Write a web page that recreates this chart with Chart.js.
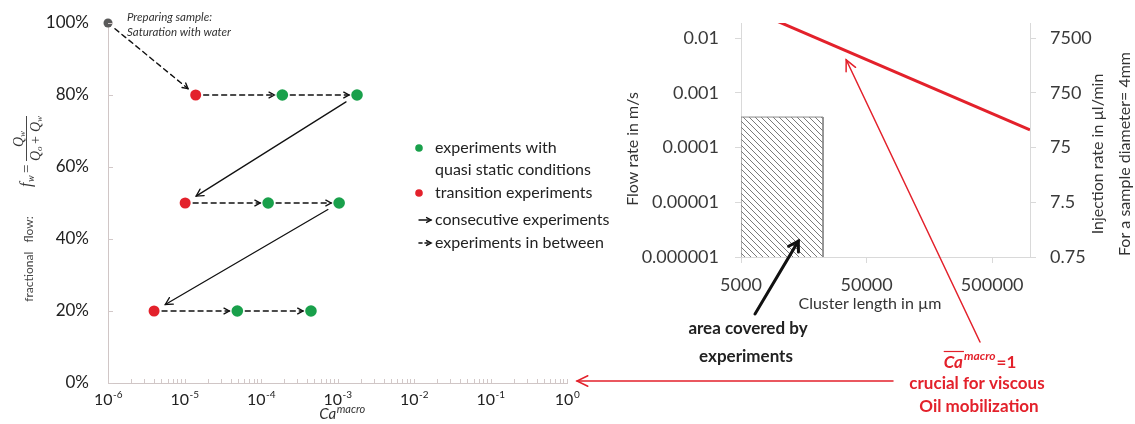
<!DOCTYPE html>
<html>
<head>
<meta charset="utf-8">
<script src="https://cdn.jsdelivr.net/npm/chart.js@4.4.1/dist/chart.umd.min.js"></script>
<style>
  body { margin: 0; background: #fff; }
  #wrap { position: relative; width: 1135px; height: 424px; }
  #left { position: absolute; left: 0; top: 0; }
  #right { position: absolute; left: 620px; top: 0; }
  #over { position: absolute; left: 0; top: 0; pointer-events: none; }
</style>
</head>
<body>
<div id="wrap">
  <canvas id="left" width="620" height="424"></canvas>
  <canvas id="right" width="515" height="424"></canvas>
  <canvas id="over" width="1135" height="424"></canvas>
</div>
<script>
// left panel: sequence of experiments (Ca macro vs fractional flow in %)
const expCa = [1e-6, 1.4e-5, 1.9e-4, 1.8e-3, 1.02e-5, 1.24e-4, 1.05e-3, 4.0e-6, 4.9e-5, 4.5e-4];
const expFw = [100, 80, 80, 80, 50, 50, 50, 20, 20, 20];
const expKind = ['prep', 'transition', 'quasi', 'quasi', 'transition', 'quasi', 'quasi', 'transition', 'quasi', 'quasi'];
// link from experiment i to i+1
const expLink = ['dashed', 'dashed', 'dashed', 'solid', 'dashed', 'dashed', 'solid', 'dashed', 'dashed'];
const caDecades = [-6, -5, -4, -3, -2, -1, 0];
const fwTicks = [0, 20, 40, 60, 80, 100];

// right panel: flow rate vs cluster length
const clusterLen = [5000, 1000000];
const flowCa1 = [0.039, 0.00021];
const coveredLen = [5000, 22500];
const coveredFlowTop = 0.00036;
const flowMin = 0.000001, flowMax = 0.0188;
const injPerFlow = 750000;
const flowTicks = [0.000001, 0.00001, 0.0001, 0.001, 0.01];
const flowTickLabels = ['0.000001', '0.00001', '0.0001', '0.001', '0.01'];
const injTicks = [0.75, 7.5, 75, 750, 7500];
const injTickLabels = ['0.75', '7.5', '75', '750', '7500'];
const lenTicks = [5000, 50000, 500000];
const lenTickLabels = ['5000', '50000', '500000'];

const RED = '#e3212b';
const GREEN = '#19a04b';

function arrow(ctx, x1, y1, x2, y2, o) {
  const a = Math.atan2(y2 - y1, x2 - x1);
  const h = o.head, s = o.spread || 0.5;
  ctx.save();
  ctx.strokeStyle = o.color;
  ctx.lineWidth = o.width;
  ctx.lineCap = 'round';
  ctx.setLineDash(o.dash || []);
  ctx.beginPath();
  ctx.moveTo(x1, y1);
  ctx.lineTo(x2, y2);
  ctx.stroke();
  ctx.setLineDash([]);
  ctx.beginPath();
  ctx.moveTo(x2 - h * Math.cos(a - s), y2 - h * Math.sin(a - s));
  ctx.lineTo(x2, y2);
  ctx.lineTo(x2 - h * Math.cos(a + s), y2 - h * Math.sin(a + s));
  ctx.stroke();
  ctx.restore();
}

function shortArrow(ctx, p, q, s1, s2, o) {
  const dx = q.x - p.x, dy = q.y - p.y, len = Math.hypot(dx, dy);
  const ux = dx / len, uy = dy / len;
  arrow(ctx, p.x + ux * s1, p.y + uy * s1, q.x - ux * s2, q.y - uy * s2, o);
}

function rotText(ctx, txt, x, y) {
  ctx.save();
  ctx.translate(x, y);
  ctx.rotate(-Math.PI / 2);
  ctx.fillText(txt, 0, 0);
  ctx.restore();
}

// fixed box size for a scale, no extra label padding
function fixBox(w, h) {
  return s => {
    if (w !== null) s.width = w;
    if (h !== null) s.height = h;
    s.paddingTop = 0; s.paddingBottom = 0; s.paddingLeft = 0; s.paddingRight = 0;
  };
}

const leftDecor = {
  id: 'leftDecor',
  afterDraw(chart) {
    const ctx = chart.ctx, xs = chart.scales.x, ys = chart.scales.y;
    ctx.save();
    // small inner tick marks
    ctx.strokeStyle = '#d2c8c8';
    ctx.lineWidth = 1;
    ctx.beginPath();
    caDecades.forEach(d => {
      for (let m = 1; m <= 9; m++) {
        const v = m * Math.pow(10, d);
        if (v > 1) break;
        const px = Math.round(xs.getPixelForValue(v)) + 0.5;
        ctx.moveTo(px, ys.bottom);
        ctx.lineTo(px, ys.bottom - 4);
      }
    });
    fwTicks.forEach(v => {
      const py = Math.round(ys.getPixelForValue(v)) + 0.5;
      ctx.moveTo(xs.left, py);
      ctx.lineTo(xs.left + 5, py);
    });
    ctx.stroke();

    // decade labels 10^n
    ctx.fillStyle = '#222';
    ctx.textBaseline = 'alphabetic';
    ctx.textAlign = 'left';
    caDecades.forEach(d => {
      const cx = xs.getPixelForValue(Math.pow(10, d));
      ctx.font = '16px Lato';
      const w1 = ctx.measureText('10').width;
      ctx.font = '10px Lato';
      const sup = d === 0 ? '0' : '-' + (-d);
      const w2 = ctx.measureText(sup).width;
      const x0 = cx - (w1 + w2) / 2;
      ctx.font = '16px Lato';
      ctx.fillText('10', x0, 405);
      ctx.font = '10px Lato';
      ctx.fillText(sup, x0 + w1 + 0.5, 398);
    });

    // x title Ca^macro
    ctx.fillStyle = '#333';
    ctx.font = 'italic 15px Lato';
    const wCa = ctx.measureText('Ca').width;
    ctx.font = 'italic 11px Lato';
    const wM = ctx.measureText('macro').width;
    const tx = 342 - (wCa + wM) / 2;
    ctx.font = 'italic 15px Lato';
    ctx.fillText('Ca', tx, 419);
    ctx.font = 'italic 11px Lato';
    ctx.fillText('macro', tx + wCa + 0.5, 413);

    // y title
    ctx.fillStyle = '#444';
    ctx.font = '12px Lato';
    ctx.textAlign = 'center';
    ctx.textBaseline = 'middle';
    rotText(ctx, 'fractional   flow:', 29, 259);

    ctx.save();
    ctx.translate(27, 187);
    ctx.rotate(-Math.PI / 2);
    ctx.textBaseline = 'alphabetic';
    ctx.textAlign = 'left';
    ctx.fillStyle = '#333';
    ctx.font = 'italic 16px "Liberation Serif"';
    ctx.fillText('f', 0, 4);
    ctx.font = 'italic 10px "Liberation Serif"';
    ctx.fillText('w', 5, 7);
    ctx.font = '15px "Liberation Serif"';
    ctx.fillText('=', 14, 4);
    ctx.strokeStyle = '#333';
    ctx.lineWidth = 0.9;
    ctx.beginPath();
    ctx.moveTo(26, -0.5);
    ctx.lineTo(71, -0.5);
    ctx.stroke();
    ctx.font = 'italic 14px "Liberation Serif"';
    ctx.fillText('Q', 40, -4);
    ctx.font = 'italic 9px "Liberation Serif"';
    ctx.fillText('w', 50, -2);
    ctx.font = 'italic 14px "Liberation Serif"';
    ctx.fillText('Q', 26, 13);
    ctx.font = 'italic 9px "Liberation Serif"';
    ctx.fillText('o', 36, 15);
    ctx.font = '14px "Liberation Serif"';
    ctx.fillText('+', 43, 13);
    ctx.font = 'italic 14px "Liberation Serif"';
    ctx.fillText('Q', 55, 13);
    ctx.font = 'italic 9px "Liberation Serif"';
    ctx.fillText('w', 65, 15);
    ctx.restore();

    // arrows between experiments
    const pts = expCa.map((c, i) => ({ x: xs.getPixelForValue(c), y: ys.getPixelForValue(expFw[i]) }));
    expLink.forEach((kind, i) => {
      if (kind === 'dashed') {
        shortArrow(ctx, pts[i], pts[i + 1], i === 0 ? 9 : 8, i === 0 ? 10 : 8,
          { color: '#111', width: 1.4, dash: [5, 4], head: 6 });
      } else {
        shortArrow(ctx, pts[i], pts[i + 1], 13, 13, { color: '#111', width: 1.3, head: 8 });
      }
    });

    // note at starting point
    ctx.fillStyle = '#333';
    ctx.font = 'italic 11.5px Lato';
    ctx.textAlign = 'left';
    ctx.textBaseline = 'middle';
    ctx.fillText('Preparing sample:', 127, 17);
    ctx.fillText('Saturation with water', 127, 32);

    // legend
    ctx.font = '16px Lato';
    ctx.fillStyle = '#222';
    ctx.fillText('experiments with', 435, 148);
    ctx.fillText('quasi static conditions', 435, 170);
    ctx.fillText('transition experiments', 435, 193);
    ctx.fillText('consecutive experiments', 435, 220);
    ctx.fillText('experiments in between', 435, 243);
    ctx.fillStyle = GREEN;
    ctx.beginPath(); ctx.arc(419, 148, 3.8, 0, Math.PI * 2); ctx.fill();
    ctx.fillStyle = RED;
    ctx.beginPath(); ctx.arc(419, 193, 3.8, 0, Math.PI * 2); ctx.fill();
    arrow(ctx, 419, 220, 431, 220, { color: '#111', width: 1.4, head: 5 });
    arrow(ctx, 419, 243, 431, 243, { color: '#111', width: 1.6, dash: [3, 3], head: 5 });
    ctx.restore();
  }
};

const leftChart = new Chart(document.getElementById('left'), {
  type: 'scatter',
  data: {
    datasets: [
      { kind: 'prep', color: '#5a5a5a', r: 4.5 },
      { kind: 'transition', color: RED, r: 5.5 },
      { kind: 'quasi', color: GREEN, r: 5.8 }
    ].map(s => ({
      data: expCa.map((c, i) => ({ x: c, y: expFw[i], k: expKind[i] })).filter(p => p.k === s.kind),
      backgroundColor: s.color,
      borderColor: s.color,
      borderWidth: 0,
      pointRadius: s.r,
      clip: false
    }))
  },
  options: {
    responsive: false,
    animation: false,
    layout: { padding: { top: 23, right: 53, left: 0, bottom: 0 } },
    plugins: { legend: { display: false }, tooltip: { enabled: false } },
    scales: {
      x: {
        type: 'logarithmic', min: 1e-6, max: 1,
        ticks: { display: false },
        grid: { drawOnChartArea: false, drawTicks: false },
        border: { color: '#d0c6c6' },
        afterFit: fixBox(null, 41)
      },
      y: {
        min: 0, max: 100,
        afterBuildTicks: s => { s.ticks = fwTicks.map(v => ({ value: v })); },
        ticks: { callback: v => v + '%', padding: 19, color: '#222', font: { family: 'Lato', size: 17 } },
        grid: { drawOnChartArea: false, drawTicks: false },
        border: { color: '#d0c6c6' },
        afterFit: fixBox(108, null)
      }
    }
  },
  plugins: [leftDecor]
});

// hatch for the area covered by experiments
const rightCanvas = document.getElementById('right');
function makeHatch() {
  const n = 6;
  const c = document.createElement('canvas');
  c.width = n; c.height = n;
  const g = c.getContext('2d');
  g.strokeStyle = '#7a7a7a';
  g.lineWidth = 1;
  g.beginPath();
  g.moveTo(0, 0); g.lineTo(n, n);
  g.moveTo(-1, n - 1); g.lineTo(1, n + 1);
  g.moveTo(n - 1, -1); g.lineTo(n + 1, 1);
  g.stroke();
  return rightCanvas.getContext('2d').createPattern(c, 'repeat');
}

const rightDecor = {
  id: 'rightDecor',
  afterDraw(chart) {
    const ctx = chart.ctx;
    ctx.save();
    ctx.fillStyle = '#333';
    ctx.font = '16px Lato';
    ctx.textAlign = 'center';
    ctx.textBaseline = 'middle';
    ctx.fillText('Cluster length in µm', 250, 304);
    rotText(ctx, 'Flow rate in m/s', 13, 149);
    rotText(ctx, 'Injection rate in µl/min', 478, 154);
    rotText(ctx, 'For a sample diameter= 4mm', 505, 154);
    ctx.restore();
  }
};

const axisGrey = '#d9d9d9';
const tickFont = { family: 'Lato', size: 18 };

const rightChart = new Chart(rightCanvas, {
  type: 'line',
  data: {
    datasets: [
      {
        data: clusterLen.map((x, i) => ({ x: x, y: flowCa1[i] })),
        borderColor: RED,
        borderWidth: 3,
        pointRadius: 0,
        yAxisID: 'y'
      },
      {
        data: [
          { x: coveredLen[0], y: flowMin },
          { x: coveredLen[0], y: coveredFlowTop },
          { x: coveredLen[1], y: coveredFlowTop },
          { x: coveredLen[1], y: flowMin }
        ],
        borderColor: '#8a8a8a',
        borderWidth: 1,
        backgroundColor: makeHatch(),
        fill: 'start',
        pointRadius: 0,
        yAxisID: 'y'
      }
    ]
  },
  options: {
    responsive: false,
    animation: false,
    layout: { padding: { top: 23, right: 0, left: 0, bottom: 0 } },
    plugins: { legend: { display: false }, tooltip: { enabled: false } },
    scales: {
      x: {
        type: 'logarithmic', min: 5000, max: 1000000,
        afterBuildTicks: s => { s.ticks = lenTicks.map(v => ({ value: v })); },
        ticks: { callback: (v, i) => lenTickLabels[i], autoSkip: false, maxRotation: 0, padding: 11, color: '#3a3a3a', font: tickFont },
        grid: { drawOnChartArea: false, tickLength: 6, color: axisGrey },
        border: { color: axisGrey },
        afterFit: fixBox(null, 167)
      },
      y: {
        type: 'logarithmic', position: 'left', min: flowMin, max: flowMax,
        afterBuildTicks: s => { s.ticks = flowTicks.map(v => ({ value: v })); },
        ticks: { callback: (v, i) => flowTickLabels[i], autoSkip: false, padding: 16, color: '#3a3a3a', font: tickFont },
        grid: { drawOnChartArea: false, tickLength: 6, color: axisGrey },
        border: { color: axisGrey },
        afterFit: fixBox(121, null)
      },
      y2: {
        type: 'logarithmic', position: 'right', min: flowMin * injPerFlow, max: flowMax * injPerFlow,
        afterBuildTicks: s => { s.ticks = injTicks.map(v => ({ value: v })); },
        ticks: { callback: (v, i) => injTickLabels[i], autoSkip: false, padding: 14, color: '#3a3a3a', font: tickFont },
        grid: { drawOnChartArea: false, tickLength: 6, color: axisGrey },
        border: { color: axisGrey },
        afterFit: fixBox(105, null)
      }
    }
  },
  plugins: [rightDecor]
});

// annotations spanning both panels
function drawOverlay() {
  const ctx = document.getElementById('over').getContext('2d');
  const off = 620;
  const rx = rightChart.scales.x, ry = rightChart.scales.y;
  const lx = leftChart.scales.x, ly = leftChart.scales.y;

  arrow(ctx, 755, 314, off + rx.getPixelForValue(14300), ry.getPixelForValue(0.00000195),
    { color: '#111', width: 3, head: 11, spread: 0.55 });
  arrow(ctx, 980, 342, off + rx.getPixelForValue(34400), ry.getPixelForValue(0.004),
    { color: RED, width: 1.5, head: 12, spread: 0.45 });
  arrow(ctx, 893, ly.bottom - 2, lx.getPixelForValue(1) + 10, ly.bottom - 2,
    { color: RED, width: 1.5, head: 12, spread: 0.45 });

  ctx.save();
  ctx.textAlign = 'center';
  ctx.textBaseline = 'middle';
  ctx.fillStyle = '#222';
  ctx.font = 'bold 17px Lato';
  ctx.fillText('area covered by', 748, 329);
  ctx.fillText('experiments', 746, 357);

  ctx.fillStyle = RED;
  ctx.font = 'bold 17px Lato';
  ctx.fillText('crucial for viscous', 977, 384);
  ctx.fillText('Oil mobilization', 979, 407);

  // Ca^macro = 1 with overline
  ctx.textAlign = 'left';
  ctx.font = 'italic bold 17px Lato';
  const w1 = ctx.measureText('Ca').width;
  ctx.font = 'italic bold 12px Lato';
  const w2 = ctx.measureText('macro').width;
  ctx.font = 'bold 17px Lato';
  const w3 = ctx.measureText('=1').width;
  const x0 = 979 - (w1 + w2 + w3) / 2;
  ctx.textBaseline = 'alphabetic';
  ctx.font = 'italic bold 17px Lato';
  ctx.fillText('Ca', x0, 368);
  ctx.font = 'italic bold 12px Lato';
  ctx.fillText('macro', x0 + w1 + 1, 360);
  ctx.font = 'bold 17px Lato';
  ctx.fillText('=1', x0 + w1 + w2 + 2, 368);
  ctx.strokeStyle = RED;
  ctx.lineWidth = 1.2;
  ctx.beginPath();
  ctx.moveTo(x0, 351.5);
  ctx.lineTo(x0 + w1 + 1, 351.5);
  ctx.stroke();
  ctx.restore();
}
drawOverlay();
</script>
</body>
</html>
